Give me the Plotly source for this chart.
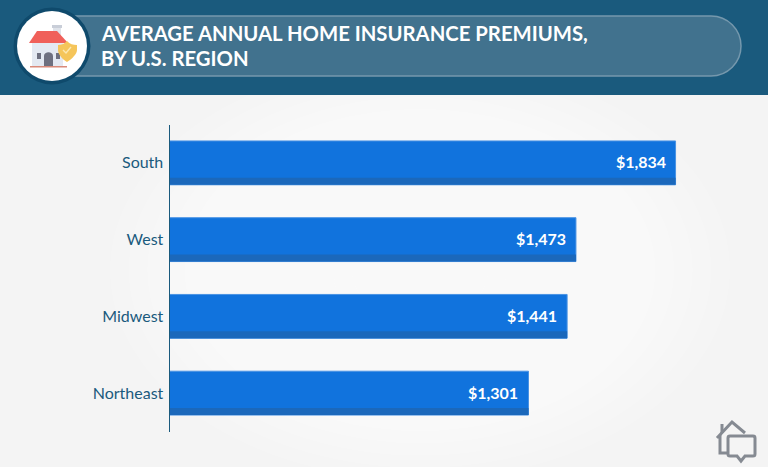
import plotly.graph_objects as go

regions = ["South", "West", "Midwest", "Northeast"]
premiums = [1834, 1473, 1441, 1301]
title_lines = ["AVERAGE ANNUAL HOME INSURANCE PREMIUMS,", "BY U.S. REGION"]

WIDTH = 768
HEIGHT = 467
NAVY = "#1a5a7d"
FONT = "Lato"


def px(x):
    return x / WIDTH


def py(y):
    return 1 - y / HEIGHT


def rect(x0, y0, x1, y1, fill, layer="below"):
    return dict(type="rect", xref="paper", yref="paper", layer=layer,
                x0=px(x0), x1=px(x1), y0=py(y0), y1=py(y1),
                fillcolor=fill, line_width=0)


def circle(cx, cy, rx, ry, fill, layer="above"):
    return dict(type="circle", xref="paper", yref="paper", layer=layer,
                x0=px(cx - rx), x1=px(cx + rx), y0=py(cy - ry), y1=py(cy + ry),
                fillcolor=fill, line_width=0)


def path(d, fill=None, line=None, width=0, layer="above"):
    # d holds pixel coordinates, commands as strings
    out = []
    is_x = True
    for tok in d.split():
        if tok.isalpha():
            out.append(tok)
            is_x = True
        else:
            out.append(f"{px(float(tok)) if is_x else py(float(tok)):.5f}")
            is_x = not is_x
    shape = dict(type="path", xref="paper", yref="paper", layer=layer, path=" ".join(out),
                 line=dict(color=line or "rgba(0,0,0,0)", width=width))
    if fill:
        shape["fillcolor"] = fill
    return shape


shapes = []

# soft white glow behind the bars
for i in range(14):
    k = 1 - i / 14
    shapes.append(circle(420, 270, 50 + 260 * k, 40 + 170 * k, "rgba(255,255,255,0.13)", layer="below"))

# header band and pill
shapes.append(rect(0, 0, WIDTH, 95, NAVY, layer="above"))
shapes.append(path("M 60 16 L 711 16 C 727.6 16 741 29.4 741 46 C 741 62.6 727.6 76 711 76 L 60 76 Z",
                   fill="#41728e", line="#7598ad", width=1.5))

# header badge
shapes.append(circle(52, 46, 38.5, 38.5, "#0f4a6c"))
shapes.append(circle(52, 46, 35, 35, "#ffffff"))
shapes.append(rect(53, 25, 61, 38, "#dfe3ea", layer="above"))
shapes.append(rect(52, 25, 62, 28, "#c9ced8", layer="above"))
shapes.append(rect(32, 43, 63, 66, "#e4e9f2", layer="above"))
shapes.append(path("M 29 43 L 37 31 L 57 31 L 68 43 Z", fill="#f0605a"))
shapes.append(path("M 44 66 L 44 56 C 44 51 53 51 53 56 L 53 66 Z", fill="#6e7080"))
shapes.append(rect(37, 53, 41, 59, "#6e7080", layer="above"))
shapes.append(rect(56, 53, 60, 59, "#6e7080", layer="above"))
shapes.append(rect(30, 66, 67, 67.5, "#d98a7a", layer="above"))
shapes.append(path("M 67 41 C 64 44 61 45 58 45 L 58 50 C 58 54 62 59 67 62 C 72 59 77 54 77 50 L 77 45 C 73 45 70 44 67 41 Z",
                   fill="#f5c55a"))
shapes.append(path("M 63 50 L 66 53 L 71 47", line="#fbe7b0", width=1.4))

# house logo in the corner
logo = "#858a92"
shapes.append(path("M 717 438 L 732 422 L 745 433", line=logo, width=3))
shapes.append(path("M 722 433 L 722 424", line=logo, width=3))
shapes.append(path("M 720 435 L 720 453 L 728 453", line=logo, width=3))
shapes.append(path("M 730 436 L 753 436 C 755 436 755 437 755 438 L 755 454 C 755 455 755 456 753 456 "
                   "L 745 456 L 741 461 L 737 456 L 730 456 C 728 456 728 455 728 454 L 728 438 C 728 437 728 436 730 436 Z",
                   fill="#f4f4f4", line=logo, width=3))

fig = go.Figure()

# bar face with a lighter edge, then the darker strip along the bottom
fig.add_trace(go.Bar(
    y=regions, x=premiums, orientation="h", width=0.5714, offset=-0.2857,
    marker=dict(color="#1173dd", line=dict(color="#4a93e4", width=1)),
    hoverinfo="skip", showlegend=False,
))
fig.add_trace(go.Bar(
    y=regions, x=premiums, orientation="h", width=0.0909, offset=0.1948,
    marker=dict(color="#1b68bb", line_width=0),
    hoverinfo="skip", showlegend=False,
))

annotations = [
    dict(x=v, y=r, xref="x", yref="y", text=f"${v:,}", showarrow=False,
         xanchor="right", xshift=-8, yshift=1,
         font=dict(family=FONT, size=16, color="#ffffff", weight="bold"))
    for r, v in zip(regions, premiums)
]
# title lines sit closer than the default line height allows
for line, y in zip(title_lines, [33.5, 57.5]):
    annotations.append(dict(
        x=px(102), y=py(y), xref="paper", yref="paper", text=line, showarrow=False,
        xanchor="left", yanchor="middle", xshift=-3,
        font=dict(family=FONT, size=20.3, color="#ffffff", weight="bold"),
    ))

fig.update_layout(
    width=WIDTH, height=HEIGHT,
    margin=dict(l=0, r=0, t=0, b=0),
    paper_bgcolor="#f4f4f4",
    plot_bgcolor="rgba(0,0,0,0)",
    barmode="overlay",
    showlegend=False,
    font=dict(family=FONT),
    shapes=shapes,
    annotations=annotations,
    xaxis=dict(domain=[px(169.5), 1], range=[0, 2169], visible=False),
    yaxis=dict(
        domain=[py(431.5), py(124.5)],
        autorange="reversed",
        showline=True, linecolor=NAVY, linewidth=1,
        showgrid=False, ticks="",
        tickfont=dict(family=FONT, size=16, color=NAVY),
        ticklabelstandoff=2,
    ),
)

fig.write_html(
    "out.html",
    config=dict(displayModeBar=False),
    post_script="document.body.style.margin = '0'; document.body.style.overflow = 'hidden';",
)
